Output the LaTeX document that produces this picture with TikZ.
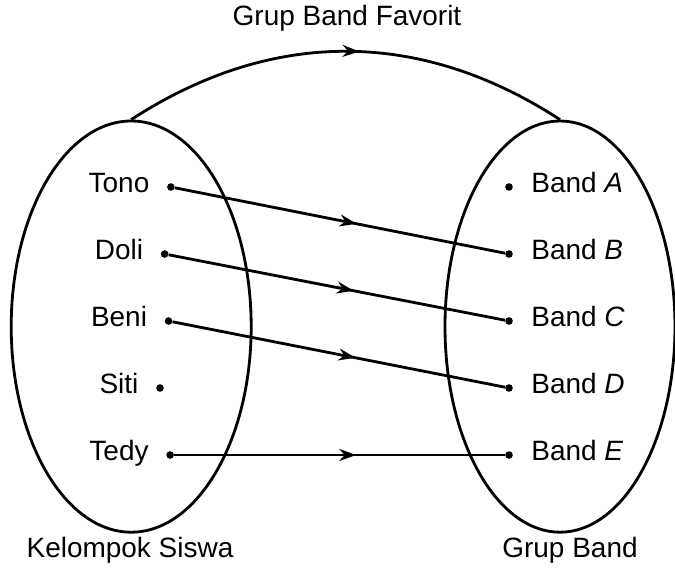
\documentclass[tikz,border=0pt]{standalone}
\usepackage{fontspec}
\setmainfont{Liberation Sans}
\usetikzlibrary{arrows.meta,shapes.geometric,positioning,decorations.markings}

\tikzset{
    himpunan/.style={draw, ellipse, line width=2pt, inner sep=0pt, minimum width=6cm, minimum height=10.28cm},
    titik/.style={circle, fill, inner sep=0pt, minimum size=0.19cm},
    nama/.style={inner sep=0pt, text height=0.716em, text depth=0pt},
    panah/.style={line width=2pt, postaction={decorate},
        decoration={markings, mark=at position #1 with {\arrow{Stealth[length=0.42cm, width=0.3cm]}}}},
    panah/.default=0.55
}

\begin{document}
\begin{tikzpicture}[font=\fontsize{19.9pt}{24pt}\selectfont]
    \useasboundingbox (0,0) rectangle (16.875,14.225);

    % Two sets
    \node[himpunan] (siswa) at (3.28,6.06) {};
    \node[himpunan, minimum width=5.75cm] (grup) at (14.0,6.06) {};

    % Relation name
    \draw[panah=0.53] (siswa.north) to[bend left=33] (grup.north);
    \node[nama] (judul) at (8.675,13.71) {Grup Band Favorit};

    % Members of the first set
    \node[nama] (tono) at (2.975,9.55) {Tono};
    \node[titik, right=0.43cm of tono] (ttono) {};
    \node[nama] (doli) at (2.975,7.875) {Doli};
    \node[titik, right=0.43cm of doli] (tdoli) {};
    \node[nama] (beni) at (2.975,6.2) {Beni};
    \node[titik, right=0.43cm of beni] (tbeni) {};
    \node[nama] (siti) at (2.975,4.525) {Siti};
    \node[titik, right=0.43cm of siti] (tsiti) {};
    \node[nama] (tedy) at (2.975,2.85) {Tedy};
    \node[titik, right=0.43cm of tedy] (ttedy) {};

    % Members of the second set
    \node[titik] (ta) at (12.725,9.55) {};
    \node[nama, right=0.45cm of ta] (banda) {Band \textit{A}};
    \node[titik] (tb) at (12.725,7.875) {};
    \node[nama, right=0.45cm of tb] (bandb) {Band \textit{B}};
    \node[titik] (tc) at (12.725,6.2) {};
    \node[nama, right=0.45cm of tc] (bandc) {Band \textit{C}};
    \node[titik] (td) at (12.725,4.525) {};
    \node[nama, right=0.45cm of td] (bandd) {Band \textit{D}};
    \node[titik] (te) at (12.725,2.85) {};
    \node[nama, right=0.45cm of te] (bande) {Band \textit{E}};

    % Pairs
    \draw[panah] (ttono) -- (tb);
    \draw[panah] (tdoli) -- (tc);
    \draw[panah] (tbeni) -- (td);
    \draw[panah] (ttedy) -- (te);

    % Set names
    \node[nama] (ks) at (3.25,0.41) {Kelompok Siswa};
    \node[nama] (gb) at (14.25,0.41) {Grup Band};
\end{tikzpicture}
\end{document}
